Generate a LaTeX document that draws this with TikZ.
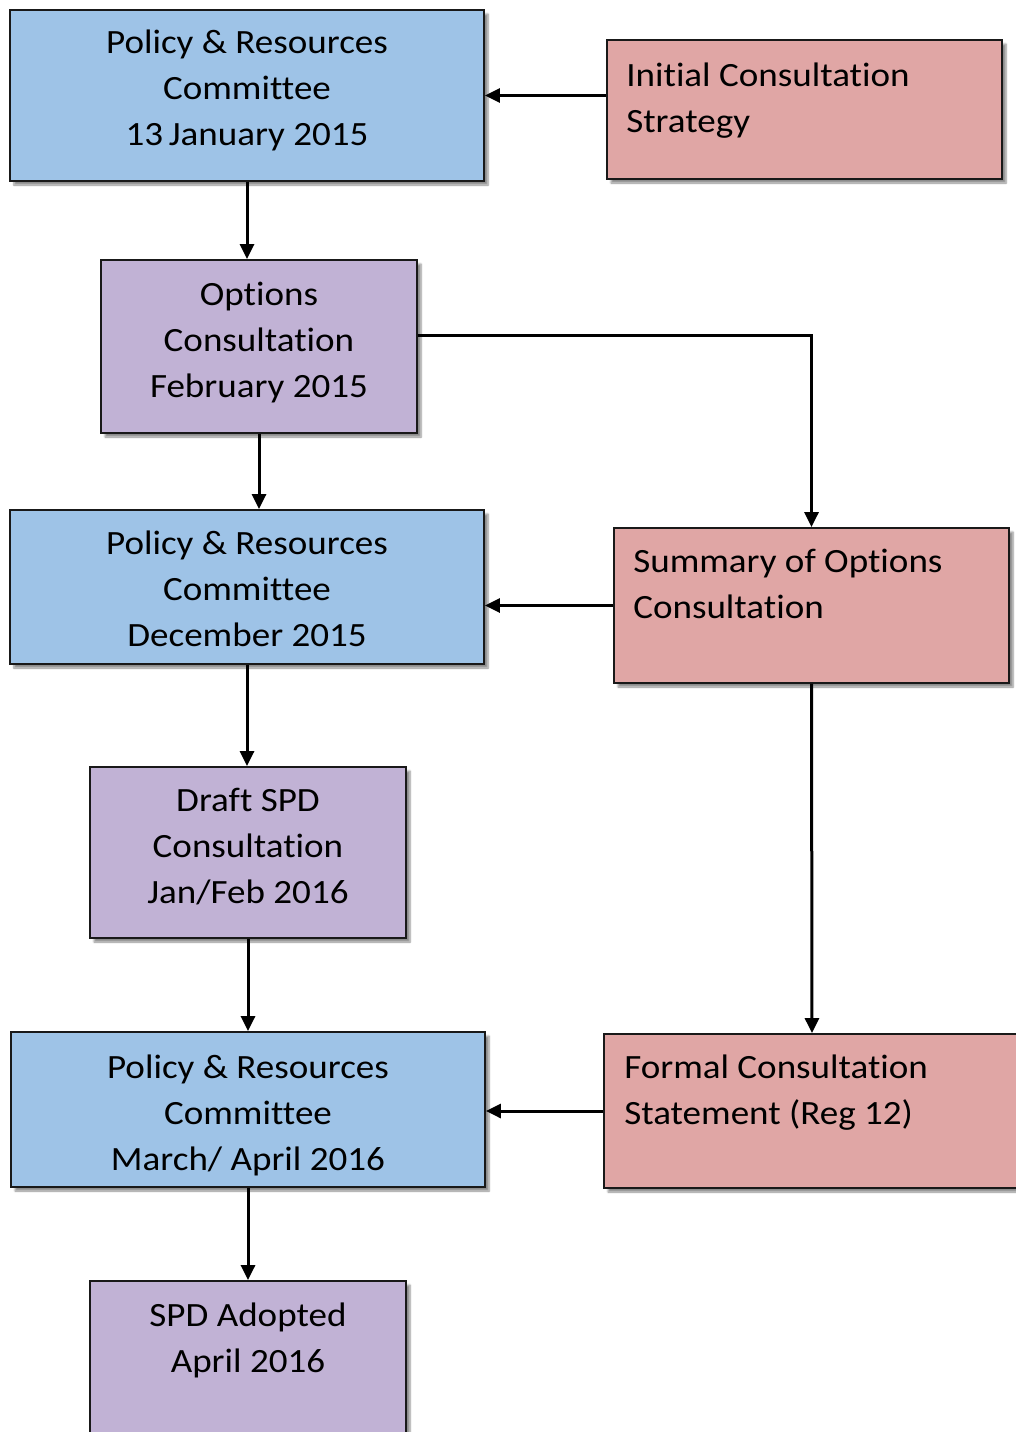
\documentclass[tikz,border=0pt]{standalone}
\usepackage{fontspec}
\setmainfont[FakeStretch=1.09,Ligatures=NoCommon]{Carlito}
\usepackage{tikz}
\usetikzlibrary{arrows.meta,shadows.blur,positioning,calc}
\definecolor{prblue}{RGB}{158,195,231}
\definecolor{conspink}{RGB}{224,166,165}
\definecolor{stagepurple}{RGB}{193,178,213}
\newcommand{\fl}{\rule{0pt}{24pt}}

\begin{document}
\begin{tikzpicture}[x=1pt,y=-1pt,
    box/.style={draw=black!90,line width=1.8pt,inner sep=0pt,
      blur shadow={shadow xshift=4pt,shadow yshift=-4pt,shadow blur steps=6,shadow opacity=45}},
    committee/.style={box,fill=prblue,minimum width=474pt},
    stage/.style={box,fill=stagepurple,minimum width=316pt},
    consult/.style={box,fill=conspink,minimum width=395pt},
    txtc/.style={inner sep=0pt,anchor=north,align=center,font=\fontsize{34}{46}\selectfont},
    txtl/.style={inner sep=0pt,anchor=north west,align=left,font=\fontsize{34}{46}\selectfont},
    arr/.style={-{Triangle[length=15pt,width=14pt]},line width=3pt}]
  \useasboundingbox (0,0) rectangle (1015,1432);

  \node[committee,minimum height=171pt] (PR1) at (247,95.5) {};
  \node[consult,minimum height=139pt] (ICS) at (804.5,109.5) {};
  \node[stage,minimum height=173pt] (OPT) at (259,346.5) {};
  \node[committee,minimum height=154pt] (PR2) at (247,587) {};
  \node[consult,minimum height=155pt] (SUM) at (811.5,605.5) {};
  \node[stage,minimum height=171pt] (DRAFT) at (248,852.5) {};
  \node[committee,minimum height=155pt] (PR3) at (248,1109.5) {};
  \node[consult,minimum width=416pt,minimum height=154pt] (FCS) at (812,1111) {};
  \node[stage,minimum height=175pt] (ADOPT) at (248,1368.5) {};

  \node[txtc] (PR1-t) at ([yshift=-20pt]PR1.north) {\fl Policy \& Resources\\ Committee\\ 13\,January 2015};
  \node[txtl] (ICS-t) at ([xshift=20pt,yshift=-23pt]ICS.north west) {\fl Initial Consultation\\ Strategy};
  \node[txtc] (OPT-t) at ([yshift=-22pt]OPT.north) {\fl Options\\ Consultation\\ February 2015};
  \node[txtc] (PR2-t) at ([yshift=-21pt]PR2.north) {\fl Policy \& Resources\\ Committee\\ December 2015};
  \node[txtl] (SUM-t) at ([xshift=20pt,yshift=-21pt]SUM.north west) {\fl Summary of Options\\ Consultation};
  \node[txtc] (DRAFT-t) at ([yshift=-21pt]DRAFT.north) {\fl Draft SPD\\ Consultation\\ Jan/Feb 2016};
  \node[txtc] (PR3-t) at ([yshift=-23pt]PR3.north) {\fl Policy \& Resources\\ Committee\\ March/ April 2016};
  \node[txtl] (FCS-t) at ([xshift=21pt,yshift=-21pt]FCS.north west) {\fl Formal Consultation\\ Statement (Reg 12)};
  \node[txtc] (ADOPT-t) at ([yshift=-22pt]ADOPT.north) {\fl SPD Adopted\\ April 2016};

  \draw[arr] (ICS.west |- PR1.east) -- (PR1.east);
  \draw[arr] (PR1.south) -- (PR1.south |- OPT.north);
  \draw[arr] (OPT.south) -- (OPT.south |- PR2.north);
  \draw[arr] ([yshift=11.5pt]OPT.east) -| (SUM.north);
  \draw[arr] (SUM.west) -- (SUM.west -| PR2.east);
  \draw[arr] (PR2.south) -- (PR2.south |- DRAFT.north);
  \draw[arr] (SUM.south) -- (FCS.north);
  \draw[arr] (DRAFT.south) -- (DRAFT.south |- PR3.north);
  \draw[arr] (FCS.west) -- (FCS.west -| PR3.east);
  \draw[arr] (PR3.south) -- (PR3.south |- ADOPT.north);
\end{tikzpicture}
\end{document}
